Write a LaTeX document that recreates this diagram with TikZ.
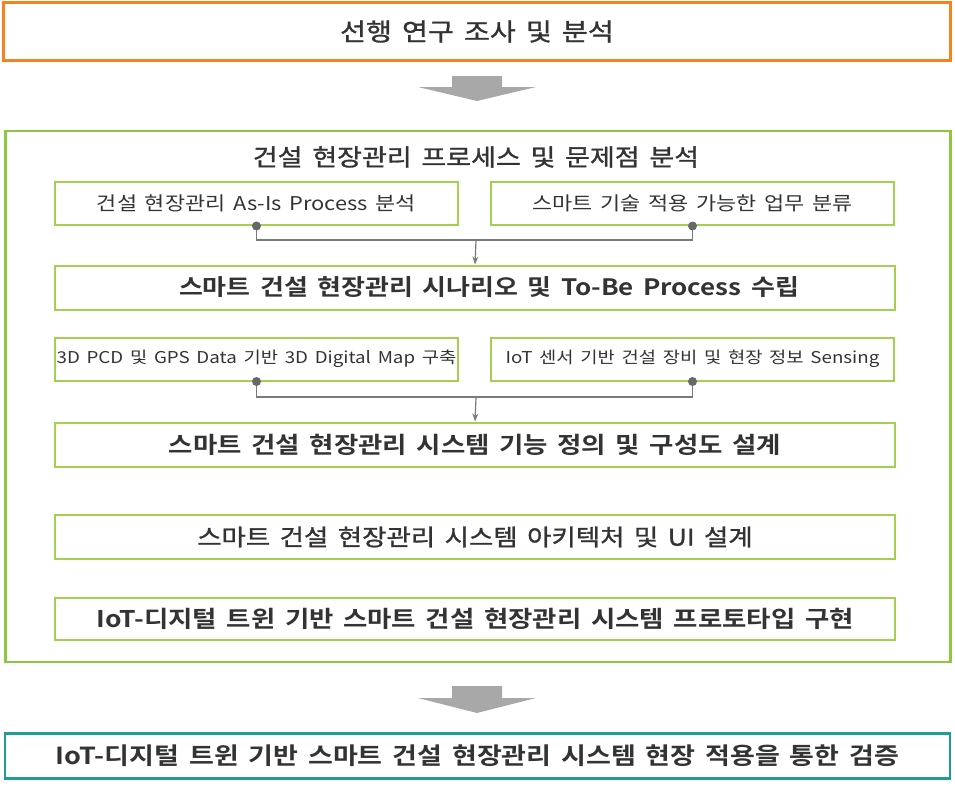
\documentclass[tikz,border=0pt]{standalone}
\usepackage{fontspec}
\usetikzlibrary{arrows.meta}
\newfontfamily\kr[FakeStretch=1.15,WordSpace=1.6]{Noto Sans CJK KR}
\newfontfamily\krm[FakeStretch=1.15,WordSpace=1.6,FakeBold=1.2]{Noto Sans CJK KR}
\newfontfamily\krb[FakeStretch=1.15,WordSpace=1.6]{Noto Sans CJK KR Bold}
\definecolor{orangeline}{HTML}{F5821F}
\definecolor{greenline}{HTML}{8DC63F}
\definecolor{greenbox}{HTML}{A3D04E}
\definecolor{tealline}{HTML}{1E9E8E}
\definecolor{txt}{HTML}{333333}
\definecolor{conn}{HTML}{7A7A7A}
\definecolor{arrowgray}{HTML}{A8A8A8}
\begin{document}
\begin{tikzpicture}[x=1pt,y=-1pt,
  outerbox/.style={draw, line width=2.5pt, minimum width=947pt, inner sep=0pt},
  subbox/.style={draw=greenbox, line width=2pt, minimum width=403pt, minimum height=43pt, inner sep=0pt, text=txt, font=\kr\fontsize{19}{22}\selectfont},
  widebox/.style={draw=greenbox, line width=2pt, minimum width=840pt, minimum height=44pt, inner sep=0pt, text=txt},
  dot/.style={fill=conn!85!black},
  link/.style={draw=conn, line width=1.2pt},
  blockarrow/.style={fill=arrowgray, draw=none}
]
\useasboundingbox (0,0) rectangle (955,787);
% top box
\node[outerbox, draw=orangeline, minimum height=58pt, text=txt, font=\krm\fontsize{24.5}{28}\selectfont] (top) at (477,31.5) {선행 연구 조사 및 분석};
% block arrow 1
\coordinate (a1) at (477,76);
\fill[blockarrow] (a1) ++(-25,0) -- ++(50,0) -- ++(0,11) -- ++(34,0) -- ++(-59,14) -- ++(-59,-14) -- ++(34,0) -- cycle;
% green container
\node[outerbox, draw=greenline, minimum width=945pt, minimum height=531pt] (mid) at (478,396.5) {};
\node[text=txt, font=\krm\fontsize{23.5}{27}\selectfont, anchor=center] (midtitle) at (476,157) {건설 현장관리 프로세스 및 문제점 분석};
% first pair
\node[subbox] (a) at (256.5,203.5) {건설 현장관리 As-Is Process 분석};
\node[subbox] (b) at (692.5,203.5) {스마트 기술 적용 가능한 업무 분류};
\node[widebox, font=\krb\fontsize{22.6}{26}\selectfont] (c) at (475,287.5) {\hspace*{28pt}스마트 건설 현장관리 시나리오 및 To-Be Process 수립};
\coordinate (j1) at (476,240);
\draw[link] (a.south) |- (j1) -| (b.south);
\draw[link, -{Stealth[length=8pt,width=6pt]}] (j1) -- (c.north);
\fill[dot] (a.south) circle (4.5);
\fill[dot] (b.south) circle (4.5);
% second pair
\node[subbox, font=\kr\fontsize{16.3}{20}\selectfont] (d) at (256.5,359) {3D PCD 및 GPS Data 기반 3D Digital Map 구축};
\node[subbox, font=\kr\fontsize{16.3}{20}\selectfont] (e) at (692.5,359) {IoT 센서 기반 건설 장비 및 현장 정보 Sensing};
\node[widebox, font=\krb\fontsize{23}{26}\selectfont] (f) at (475,444.5) {스마트 건설 현장관리 시스템 기능 정의 및 구성도 설계};
\coordinate (j2) at (476,397);
\draw[link] (d.south) |- (j2) -| (e.south);
\draw[link, -{Stealth[length=8pt,width=6pt]}] (j2) -- (f.north);
\fill[dot] (d.south) circle (4.5);
\fill[dot] (e.south) circle (4.5);
% other boxes
\node[widebox, font=\krm\fontsize{23}{26}\selectfont] (g) at (475,537) {스마트 건설 현장관리 시스템 아키텍처 및 UI 설계};
\node[widebox, minimum height=42pt, font=\krb\fontsize{23}{26}\selectfont] (h) at (475,619) {IoT-디지털 트윈 기반 스마트 건설 현장관리 시스템 프로토타입 구현};
% block arrow 2
\coordinate (a2) at (477,686);
\fill[blockarrow] (a2) ++(-25,0) -- ++(50,0) -- ++(0,12) -- ++(34,0) -- ++(-59,15) -- ++(-59,-15) -- ++(34,0) -- cycle;
% bottom box
\node[outerbox, draw=tealline, minimum width=945pt, minimum height=45pt, text=txt, font=\krb\fontsize{23.5}{27}\selectfont] (bot) at (477.5,756) {IoT-디지털 트윈 기반 스마트 건설 현장관리 시스템 현장 적용을 통한 검증};
\end{tikzpicture}
\end{document}
